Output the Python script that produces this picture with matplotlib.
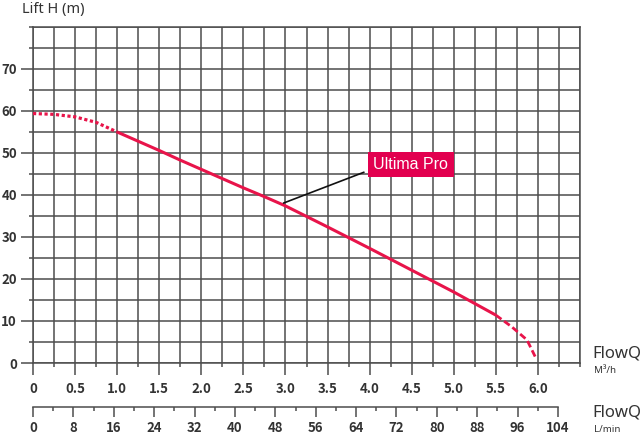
import matplotlib
matplotlib.use('Agg')
import matplotlib.pyplot as plt
from matplotlib.ticker import MultipleLocator, FixedLocator

plt.rcParams['font.family'] = ['Noto Sans', 'DejaVu Sans']

# pump curve: flow in m3/h, head in m
flow_dotted = [0.0, 0.25, 0.5, 0.75, 1.0]
head_dotted = [59.4, 59.2, 58.6, 57.3, 55.0]
flow_solid = [1.0, 1.25, 1.5, 1.75, 2.0, 2.25, 2.5, 2.75, 3.0, 3.5, 4.0, 4.5, 5.0, 5.5]
head_solid = [55.0, 52.8, 50.6, 48.3, 46.1, 43.9, 41.7, 39.6, 37.4, 32.4, 27.3, 22.1, 16.9, 11.4]
flow_dashed = [5.5, 5.69, 5.87, 5.98]
head_dashed = [11.4, 8.6, 5.5, 1.0]

m3h_ticks = [0, 0.5, 1.0, 1.5, 2.0, 2.5, 3.0, 3.5, 4.0, 4.5, 5.0, 5.5, 6.0]
m3h_labels = ['0', '0.5', '1.0', '1.5', '2.0', '2.5', '3.0', '3.5', '4.0', '4.5', '5.0', '5.5', '6.0']
lmin_ticks = [0, 8, 16, 24, 32, 40, 48, 56, 64, 72, 80, 88, 96, 104]
head_ticks = [0, 10, 20, 30, 40, 50, 60, 70]

curve_col = '#e8144a'
box_col = '#e2004f'
grid_col = '#4d4d4d'
txt_col = '#333333'
tick_font = dict(family=['Noto Sans CJK SC', 'DejaVu Sans'], weight='bold', size=9.5)
px = 72 / 100  # points per pixel at dpi 100

fig = plt.figure(figsize=(6.4, 4.36), dpi=100)
ax = fig.add_axes([33/640, 73/436, 547/640, 336/436])

ax.set_xlim(0, 6.5)
ax.set_ylim(0, 80)
ax.xaxis.set_major_locator(FixedLocator(m3h_ticks))
ax.set_xticklabels(m3h_labels)
ax.xaxis.set_minor_locator(MultipleLocator(0.25))
ax.yaxis.set_major_locator(FixedLocator(head_ticks))
ax.yaxis.set_minor_locator(MultipleLocator(5))
ax.grid(which='both', color=grid_col, linewidth=1.1)
for s in ax.spines.values():
    s.set_color(grid_col)
    s.set_linewidth(1.1)
ax.tick_params(axis='both', which='major', direction='out', length=12*px, width=1.1,
               color=grid_col, labelcolor=txt_col)
ax.tick_params(axis='both', which='minor', direction='out', length=4*px, width=1.1, color=grid_col)
ax.tick_params(axis='x', which='major', pad=6.5*px)
ax.tick_params(axis='y', which='major', pad=4*px)
for lab in ax.get_xticklabels() + ax.get_yticklabels():
    lab.set(**tick_font)

# curve: dotted start, solid middle, dashed tail
ax.plot(flow_dotted, head_dotted, color=curve_col, lw=2.3, linestyle=(0, (1, 0.8)), zorder=3)
ax.plot(flow_solid, head_solid, color=curve_col, lw=2.2, zorder=3, solid_capstyle='butt')
ax.plot(flow_dashed, head_dashed, color=curve_col, lw=2.0, linestyle=(0, (2.5, 1.2)), zorder=3)

# label with leader line
ax.plot([2.98, 3.93], [38.1, 45.4], color='#111111', lw=1.2, zorder=4)
ax.text(4.49, 47.3, 'Ultima Pro', color='white', fontsize=11.5, family=['Liberation Sans'],
        ha='center', va='center', zorder=5,
        bbox=dict(boxstyle='square,pad=0.33', fc=box_col, ec='none'))

fig.text(22/640, 1 - 9/436, 'Lift H (m)', fontsize=10.5, color=txt_col, va='center', ha='left')

# second flow axis in L/min
ax2 = fig.add_axes([33/640, 29/436, 525/640, 0.0001])
ax2.set_xlim(0, 104)
ax2.set_ylim(0, 1)
ax2.patch.set_visible(False)
for side in ['left', 'right', 'bottom']:
    ax2.spines[side].set_visible(False)
ax2.spines['top'].set_color(grid_col)
ax2.spines['top'].set_linewidth(1.1)
ax2.set_yticks([])
ax2.xaxis.set_major_locator(FixedLocator(lmin_ticks))
ax2.xaxis.set_minor_locator(MultipleLocator(4))
ax2.tick_params(axis='x', which='major', direction='out', length=10*px, width=1.1,
                color=grid_col, pad=4*px, labelcolor=txt_col)
ax2.tick_params(axis='x', which='minor', direction='out', length=4*px, width=1.1, color=grid_col)
for lab in ax2.get_xticklabels():
    lab.set(**tick_font)

fig.text(592/640, 1 - 353/436, 'FlowQ', fontsize=12, color=txt_col, va='center', ha='left')
fig.text(594/640, 1 - 370/436, 'M³/h', fontsize=7, color=txt_col, fontweight='bold', va='center', ha='left')
fig.text(592/640, 1 - 412/436, 'FlowQ', fontsize=12, color=txt_col, va='center', ha='left')
fig.text(594/640, 1 - 429/436, 'L/min', fontsize=7, color=txt_col, fontweight='bold', va='center', ha='left')

fig.savefig('out.png', dpi=100)
